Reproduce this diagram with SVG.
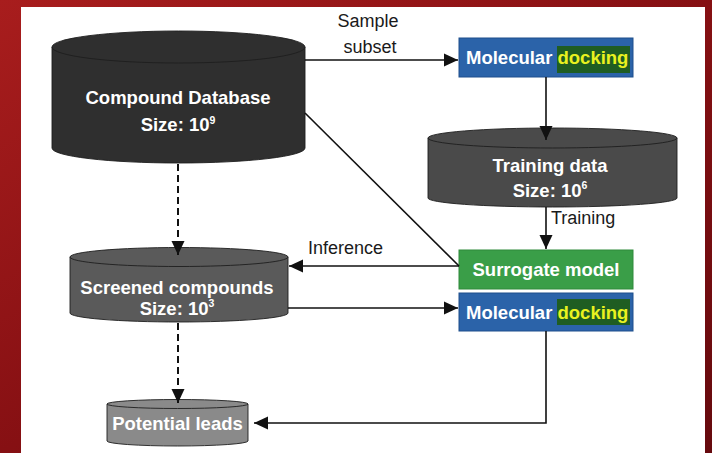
<svg xmlns="http://www.w3.org/2000/svg" width="712" height="453" viewBox="0 0 712 453">
  <defs>
    <linearGradient id="bg" x1="0" y1="0" x2="1" y2="1">
      <stop offset="0" stop-color="#a81d1d"/>
      <stop offset="0.5" stop-color="#861013"/>
      <stop offset="1" stop-color="#660a0e"/>
    </linearGradient>
    <marker id="arrow" markerUnits="userSpaceOnUse" markerWidth="15" markerHeight="14" refX="14" refY="7" orient="auto">
      <path d="M0,0.5 L14,7 L0,13.5 Z" fill="#111"/>
    </marker>
    <style>
      .lbl { font-family: "Liberation Sans", Arial, sans-serif; font-size: 18px; fill: #1a1a1a; }
      .nt { font-family: "Liberation Sans", Arial, sans-serif; font-size: 18.5px; font-weight: bold; fill: #fff; }
      .sup { font-size: 10.5px; }
      .hl { fill: #e9f21f; }
      .edge { fill: none; stroke: #111; stroke-width: 1.6; }
      .dash { stroke-dasharray: 7 4; stroke-width: 2; }
      .cyl { stroke: #1e1e1e; stroke-width: 0.9; }
    </style>
  </defs>

  <!-- backdrop and panel -->
  <rect x="0" y="0" width="712" height="453" fill="url(#bg)"/>
  <rect x="21" y="7" width="684" height="446" fill="#ffffff"/>

  <!-- Compound Database -->
  <g id="compound-db">
    <path class="cyl" fill="#2f2f2f" d="M52,47 V148 A126.5,15 0 0 0 305,148 V47 Z"/>
    <ellipse class="cyl" fill="#2f2f2f" cx="178.5" cy="47" rx="126.5" ry="16"/>
    <text class="nt" x="178" y="103.5" text-anchor="middle">Compound Database</text>
    <text class="nt" x="178" y="131" text-anchor="middle">Size: 10<tspan class="sup" dy="-7.5">9</tspan></text>
  </g>

  <!-- Molecular docking (sampling) -->
  <g id="docking-1">
    <rect x="459" y="38" width="174" height="39" fill="#2b63a9" stroke="#1f4f8c" stroke-width="1"/>
    <rect x="557" y="46" width="73" height="27" fill="#1f5d22"/>
    <text class="nt" x="466" y="64">Molecular <tspan class="hl">docking</tspan></text>
  </g>

  <!-- Training data -->
  <g id="training-data">
    <path class="cyl" fill="#4a4a4a" d="M428,138 V198 A124.5,9 0 0 0 677,198 V138 Z"/>
    <ellipse class="cyl" fill="#4a4a4a" cx="552.5" cy="138" rx="124.5" ry="10"/>
    <text class="nt" x="550" y="171.5" text-anchor="middle">Training data</text>
    <text class="nt" x="550" y="196.5" text-anchor="middle">Size: 10<tspan class="sup" dy="-7.5">6</tspan></text>
  </g>

  <!-- Surrogate model -->
  <g id="surrogate">
    <rect x="459" y="250" width="174" height="39" fill="#3a9e48" stroke="#2e8a3b" stroke-width="1"/>
    <text class="nt" x="546" y="275.5" text-anchor="middle">Surrogate model</text>
  </g>

  <!-- Molecular docking (validation) -->
  <g id="docking-2">
    <rect x="459" y="293" width="174" height="38" fill="#2b63a9" stroke="#1f4f8c" stroke-width="1"/>
    <rect x="557" y="299" width="73" height="26" fill="#1f5d22"/>
    <text class="nt" x="466" y="318.5">Molecular <tspan class="hl">docking</tspan></text>
  </g>

  <!-- Screened compounds -->
  <g id="screened">
    <path class="cyl" fill="#5a5a5a" d="M70,257 V313 A109,9 0 0 0 288,313 V257 Z"/>
    <ellipse class="cyl" fill="#5a5a5a" cx="179" cy="257" rx="109" ry="9.5"/>
    <text class="nt" x="177" y="293.5" text-anchor="middle">Screened compounds</text>
    <text class="nt" x="177" y="314.5" text-anchor="middle">Size: 10<tspan class="sup" dy="-7.5">3</tspan></text>
  </g>

  <!-- Potential leads -->
  <g id="leads">
    <path class="cyl" fill="#8a8a8a" d="M107,404 V441 A70.5,5 0 0 0 248,441 V404 Z"/>
    <ellipse class="cyl" fill="#8a8a8a" cx="177.5" cy="404" rx="70.5" ry="4.5"/>
    <text class="nt" x="177.5" y="429.5" text-anchor="middle">Potential leads</text>
  </g>

  <!-- connectors, drawn last so arrowheads sit on top of the cylinders -->
  <g id="connectors">
    <path class="edge" d="M305,60 H458" marker-end="url(#arrow)"/>
    <path class="edge" d="M546,77 V140" marker-end="url(#arrow)"/>
    <path class="edge" d="M546,207 V249" marker-end="url(#arrow)"/>
    <path class="edge" d="M459,266 H289" marker-end="url(#arrow)"/>
    <path class="edge" d="M305,113 L459,266"/>
    <path class="edge" d="M288,308 H458" marker-end="url(#arrow)"/>
    <path class="edge" d="M546,331 V423 H254" marker-end="url(#arrow)"/>
    <path class="edge dash" d="M178,164 V255" marker-end="url(#arrow)"/>
    <path class="edge dash" d="M178,323 V403" marker-end="url(#arrow)"/>
    <text class="lbl" x="368" y="27" text-anchor="middle">Sample</text>
    <text class="lbl" x="370" y="53" text-anchor="middle">subset</text>
    <text class="lbl" x="308" y="254">Inference</text>
    <text class="lbl" x="551" y="224">Training</text>
  </g>
</svg>
